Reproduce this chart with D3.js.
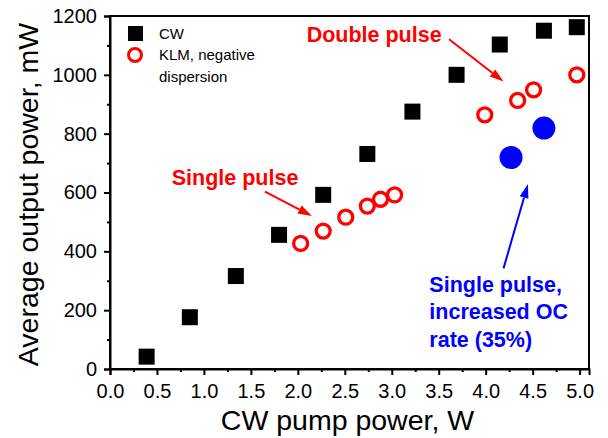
<!DOCTYPE html>
<html>
<head>
<meta charset="utf-8">
<script src="https://cdn.jsdelivr.net/npm/d3@7"></script>
<style>
  body { margin: 0; background: #fff; }
  svg { display: block; font-family: "Liberation Sans", Arial, sans-serif; }
</style>
</head>
<body>
<script>
// CW laser (pump W, output mW)
const cwPump = [0.39, 0.85, 1.34, 1.80, 2.27, 2.74, 3.22, 3.69, 4.15, 4.62, 4.97];
const cwPower = [42, 176, 316, 456, 592, 731, 875, 1000, 1103, 1150, 1162];

// KLM, negative dispersion
const klmPump = [2.03, 2.27, 2.51, 2.74, 2.88, 3.03, 3.99, 4.34, 4.51, 4.97];
const klmPower = [427, 469, 516, 554, 577, 592, 864, 913, 949, 1000];

// single pulse, increased OC rate
const ocPump = [4.27, 4.62];
const ocPower = [719, 819];

const xTicks = [0, 0.5, 1, 1.5, 2, 2.5, 3, 3.5, 4, 4.5, 5];
const yTicks = [0, 200, 400, 600, 800, 1000, 1200];

const width = 608, height = 438;
const margin = {top: 16, right: 19, bottom: 69, left: 110};

const svg = d3.select("body").append("svg")
    .attr("width", width)
    .attr("height", height);

const x = d3.scaleLinear([0, 5.1], [margin.left, width - margin.right]);
const y = d3.scaleLinear([0, 1200], [height - margin.bottom, margin.top]);

// frame
svg.append("rect")
    .attr("x", x(0))
    .attr("y", y(1200))
    .attr("width", x(5.1) - x(0))
    .attr("height", y(0) - y(1200))
    .attr("fill", "none")
    .attr("stroke", "#000")
    .attr("stroke-width", 2);

// minor ticks
svg.append("g")
    .attr("transform", `translate(0,${y(0)})`)
    .call(d3.axisBottom(x).tickValues(d3.range(0.25, 5, 0.5)).tickSize(3).tickFormat(""))
    .call(g => g.select(".domain").remove())
    .selectAll("line").attr("stroke-width", 2);
svg.append("g")
    .attr("transform", `translate(${x(0)},0)`)
    .call(d3.axisLeft(y).tickValues(d3.range(100, 1200, 200)).tickSize(3).tickFormat(""))
    .call(g => g.select(".domain").remove())
    .selectAll("line").attr("stroke-width", 2);

// major axes
const xAxis = svg.append("g")
    .attr("transform", `translate(0,${y(0)})`)
    .call(d3.axisBottom(x).tickValues(xTicks).tickFormat(d3.format(".1f")).tickSize(6).tickPadding(9));
const yAxis = svg.append("g")
    .attr("transform", `translate(${x(0)},0)`)
    .call(d3.axisLeft(y).tickValues(yTicks).tickFormat(d3.format("d")).tickSize(6).tickPadding(7));

[xAxis, yAxis].forEach(ax => {
    ax.select(".domain").attr("stroke-width", 2);
    ax.selectAll(".tick line").attr("stroke-width", 2);
    ax.selectAll("text")
        .attr("font-family", "'Liberation Sans', Arial, sans-serif")
        .attr("font-size", 20)
        .attr("fill", "#000");
});

// axis titles
svg.append("text")
    .attr("x", (x(0) + x(5.1)) / 2 - 2)
    .attr("y", 430)
    .attr("text-anchor", "middle")
    .attr("font-size", 28.5)
    .text("CW pump power, W");
svg.append("text")
    .attr("transform", `translate(38,${(y(0) + y(1200)) / 2 + 2}) rotate(-90)`)
    .attr("text-anchor", "middle")
    .attr("font-size", 28.5)
    .text("Average output power, mW");

// data
const sq = 16;
svg.append("g").selectAll("rect")
    .data(d3.zip(cwPump, cwPower))
    .join("rect")
    .attr("x", d => x(d[0]) - sq / 2)
    .attr("y", d => y(d[1]) - sq / 2)
    .attr("width", sq)
    .attr("height", sq)
    .attr("fill", "#000");

svg.append("g").selectAll("circle")
    .data(d3.zip(klmPump, klmPower))
    .join("circle")
    .attr("cx", d => x(d[0]))
    .attr("cy", d => y(d[1]))
    .attr("r", 7)
    .attr("fill", "none")
    .attr("stroke", "#ff0000")
    .attr("stroke-width", 3.3);

svg.append("g").selectAll("circle")
    .data(d3.zip(ocPump, ocPower))
    .join("circle")
    .attr("cx", d => x(d[0]))
    .attr("cy", d => y(d[1]))
    .attr("r", 11.5)
    .attr("fill", "#0000ff");

// legend
const legend = svg.append("g").attr("font-size", 15);
legend.append("rect")
    .attr("x", 128).attr("y", 26).attr("width", 15).attr("height", 15)
    .attr("fill", "#000");
legend.append("text").attr("x", 159).attr("y", 39).text("CW");
legend.append("circle")
    .attr("cx", 135).attr("cy", 55).attr("r", 6.5)
    .attr("fill", "none").attr("stroke", "#ff0000").attr("stroke-width", 3);
legend.append("text").attr("x", 159).attr("y", 60).text("KLM, negative");
legend.append("text").attr("x", 159).attr("y", 82).text("dispersion");

// annotations: arrows given in data units [x0, y0, x1, y1]
function arrow(a, color) {
    const x0 = x(a[0]), y0 = y(a[1]), x1 = x(a[2]), y1 = y(a[3]);
    const ang = Math.atan2(y1 - y0, x1 - x0);
    const len = 14, half = 4.5;
    const bx = x1 - len * Math.cos(ang), by = y1 - len * Math.sin(ang);
    svg.append("line")
        .attr("x1", x0).attr("y1", y0).attr("x2", bx).attr("y2", by)
        .attr("stroke", color).attr("stroke-width", 2);
    svg.append("path")
        .attr("d", `M${x1},${y1}L${bx - half * Math.sin(ang)},${by + half * Math.cos(ang)}` +
                   `L${bx + half * Math.sin(ang)},${by - half * Math.cos(ang)}Z`)
        .attr("fill", color);
}

arrow([1.65, 603, 2.15, 520], "#ff0000");
arrow([3.61, 1121, 4.19, 977], "#ff0000");
arrow([4.19, 342, 4.45, 629], "#0000ff");

svg.append("text")
    .attr("x", x(0.657)).attr("y", y(625))
    .attr("font-size", 21.5).attr("font-weight", "bold").attr("fill", "#ff0000")
    .text("Single pulse");
svg.append("text")
    .attr("x", x(2.094)).attr("y", y(1113))
    .attr("font-size", 21.5).attr("font-weight", "bold").attr("fill", "#ff0000")
    .text("Double pulse");

const blueLines = ["Single pulse,", "increased OC", "rate (35%)"];
svg.append("text")
    .attr("font-size", 21.5).attr("font-weight", "bold").attr("fill", "#0000ff")
    .selectAll("tspan")
    .data(blueLines)
    .join("tspan")
    .attr("x", x(3.40))
    .attr("y", (d, i) => y(263) + i * 27.5)
    .text(d => d);
</script>
</body>
</html>
